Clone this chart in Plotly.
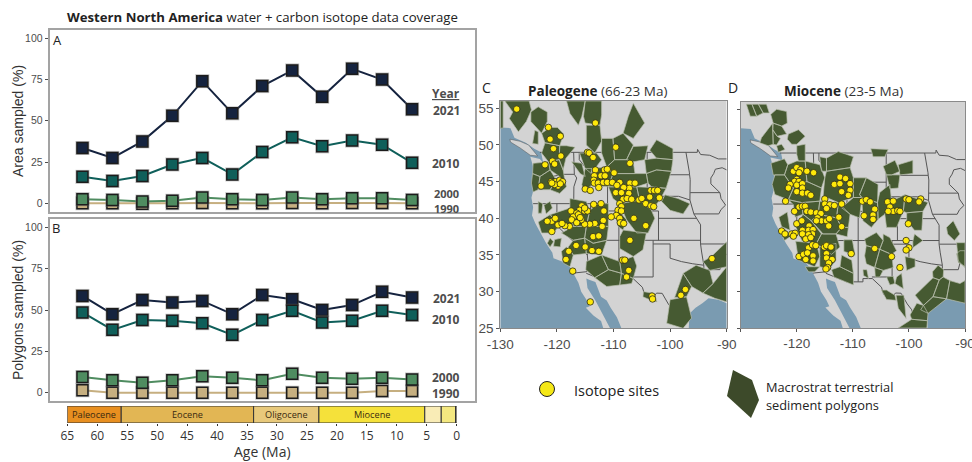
import plotly.graph_objects as go

W, H = 972, 462
AGES = [62.5, 57.5, 52.5, 47.5, 42.5, 37.5, 32.5, 27.5, 22.5, 17.5, 12.5, 7.5]
AREA_2021 = [33.5, 27.5, 37.5, 53, 74, 54.5, 71, 80.5, 64.5, 81.5, 75, 57]
AREA_2010 = [16, 13.5, 16.5, 23.5, 27.5, 17.5, 31, 40, 34.5, 38, 35.5, 24.5]
AREA_2000 = [2.5, 2, 1, 1.5, 3.5, 2.5, 2, 3.5, 2.5, 3, 3, 2]
AREA_1990 = [0, 0, -0.3, 0, 0.2, 0, 0, 0.2, 0, 0.2, 0.2, 0]
POLY_2021 = [58.5, 47.5, 56, 54.5, 55.5, 47.5, 59, 56.5, 50, 53, 61, 57.5]
POLY_2010 = [48.5, 38, 44, 43.5, 42, 35, 44, 49.5, 42.5, 43.5, 49.5, 47]
POLY_2000 = [9.5, 7.5, 6, 7.5, 10, 9, 7.5, 11.5, 9, 8.5, 9, 8]
POLY_1990 = [1.5, 0, 0, 0, 0, 0, 0, 0, 0, 0, 1, 1]
YEAR_COLORS = {"2021": "#15233f", "2010": "#0f5f5a", "2000": "#4f8c60", "1990": "#c6af80"}

PERIOD_NAMES = ["Paleocene", "Eocene", "Oligocene", "Miocene", "", "", ""]
PERIOD_OLD = [65, 56, 33.9, 23, 5.33, 2.58, 0.2]
PERIOD_YOUNG = [56, 33.9, 23, 5.33, 2.58, 0.2, 0]
PERIOD_COLORS = ["#e88f20", "#e2b654", "#e8c97b", "#f5e13a", "#f9ecb6", "#f4e880", "#f9f3c0"]

LAND = [(-130, 25), (-130, 56), (-90, 56), (-90, 25)]
OCEAN_PACIFIC = [(-130, 25), (-130, 52.4), (-128.2, 52.3), (-127.5, 51), (-125.5, 50.3), (-124, 49.5), (-122.8, 49),
                 (-122.4, 47.5), (-123, 48.1), (-124.7, 48.4), (-124.1, 46.8), (-124, 46), (-124.1, 44), (-124.5, 42.8),
                 (-124.2, 41.5), (-124.4, 40.4), (-123.8, 39.3), (-122.9, 38), (-122.5, 37.5), (-121.9, 36.6),
                 (-120.8, 35.3), (-120.6, 34.55), (-119.2, 34.15), (-118.5, 34), (-117.3, 33), (-117.1, 32.5),
                 (-116.2, 31.2), (-115.7, 30), (-114.7, 28.8), (-114.2, 28), (-114.9, 27.8), (-113.5, 26.7),
                 (-112.2, 26), (-111.8, 25)]
OCEAN_GULF_CA = [(-114.8, 31.8), (-114.6, 30.5), (-113.2, 28.8), (-112, 27), (-111.2, 25.8), (-110.6, 25),
                 (-108.6, 25), (-109.4, 26.5), (-110.5, 27.8), (-111.2, 28.8), (-112.2, 29.3), (-112.8, 30.5),
                 (-113.2, 31.3), (-114.2, 31.6)]
OCEAN_GULF_MX = [(-96.7, 25), (-96.6, 27), (-95.5, 27.8), (-94.3, 28.4), (-93.2, 29.1), (-91.5, 28.9), (-90, 28.4), (-90, 25)]
VANCOUVER_ISLAND = [(-128.3, 50.8), (-126.5, 50.5), (-125, 50), (-123.4, 48.5), (-124.7, 48.6), (-126.5, 49.6), (-128.2, 50.4)]

BORDERS = [
    [(-123, 49), (-95.2, 49), (-95.15, 49.4), (-94.6, 48.7), (-93, 48.6), (-91.5, 48.1), (-90, 48.1)],
    [(-124, 46.25), (-123, 46.15), (-122.7, 45.65), (-121.2, 45.65), (-119.3, 45.93), (-119, 46), (-116.92, 46)],
    [(-117.04, 49), (-117.04, 46.4), (-116.92, 46), (-116.5, 45.5), (-117, 44.3), (-117.03, 42)],
    [(-124.2, 42), (-111.05, 42)], [(-120, 42), (-120, 39), (-114.63, 35), (-114.05, 36.2), (-114.05, 42)],
    [(-114.63, 35), (-114.5, 34), (-114.72, 32.72), (-117.12, 32.53)],
    [(-114.81, 32.5), (-111.07, 31.33), (-108.2, 31.33), (-108.2, 31.78), (-106.53, 31.78), (-104.9, 30.6), (-104.5, 29.6),
     (-103.2, 29), (-102.4, 29.8), (-101.4, 29.77), (-100.3, 28.3), (-99.5, 27.5), (-99.1, 26.4), (-97.2, 25.95)],
    [(-114.05, 37), (-94.62, 37)], [(-109.05, 41), (-109.05, 31.33)],
    [(-111.05, 45), (-111.05, 41), (-102.05, 41), (-102.05, 37)], [(-116.05, 49), (-116.05, 48), (-114.6, 46.6),
     (-114.3, 45.5), (-113.5, 45.1), (-111.05, 44.5)],
    [(-111.05, 45), (-104.05, 45)], [(-104.05, 49), (-104.05, 41)], [(-102.05, 40), (-95.3, 40)],
    [(-104.05, 45.94), (-96.56, 45.94)], [(-104.05, 43), (-98.5, 43), (-96.5, 42.5)],
    [(-103, 37), (-103, 32), (-106.6, 32)], [(-103, 36.5), (-100, 36.5), (-100, 34.56), (-98, 34.1), (-96, 33.8), (-94.04, 33.6)],
    [(-94.62, 39.1), (-94.62, 36.5), (-94.43, 35.4), (-94.04, 33.6), (-94.04, 32), (-93.5, 31), (-93.8, 29.7)],
    [(-94.04, 33), (-91.2, 33), (-90.6, 34.8), (-90, 35.1)], [(-94.6, 36.5), (-90, 36.5)],
    [(-94.6, 39.1), (-95.3, 40), (-95.8, 40.6), (-96.5, 42.5), (-96.45, 43.5), (-96.45, 45.3), (-96.56, 45.94), (-96.6, 46.3), (-97.2, 49)],
    [(-96.45, 43.5), (-91.2, 43.5), (-92.8, 44.7), (-92.8, 45.5), (-92.3, 46.1), (-92, 46.7), (-90.8, 46.9), (-90, 46.6)],
    [(-95.8, 40.6), (-91.4, 40.6), (-91, 41.2), (-90.2, 41.8), (-91, 42.7), (-91.2, 43.5)],
]

C_POLYGONS = [
    [(-130, 56), (-129.5, 56), (-129.5, 52.3), (-130, 52.3)],
    [(-129.2, 56), (-124.9, 56), (-124.5, 54.8), (-125.4, 53.2), (-126.8, 51.8), (-128.4, 53.6), (-127.8, 54.5)],
    [(-124.6, 54.5), (-123.3, 55.2), (-121.7, 54.5), (-121.7, 53.2), (-122.7, 51.6), (-124.6, 53.2)],
    [(-124.3, 50.2), (-123.9, 52), (-123.3, 51.8), (-123.3, 50.1)],
    [(-122.7, 51.6), (-121.2, 52.4), (-119.9, 52.4), (-118.8, 51.5), (-119.5, 49.9), (-120.9, 50.1), (-122.1, 50.3)],
    [(-122.1, 50.3), (-119.5, 49.9), (-119.6, 48), (-121.5, 47.7), (-122.7, 48.9)],
    [(-119.5, 49.9), (-118.3, 49.9), (-116.8, 49.7), (-118.4, 48.2), (-118.9, 46.6), (-119.6, 48)],
    [(-124.2, 47.5), (-121.5, 47.7), (-121.2, 46.6), (-123, 45.7), (-124.3, 46.1)],
    [(-121.5, 47.7), (-119.6, 48), (-118.9, 46.6), (-118.6, 45.2), (-121.2, 46.6)],
    [(-124.3, 46.1), (-123, 45.7), (-123.3, 43.9), (-124.2, 43.6), (-124.5, 44.8)],
    [(-123, 45.7), (-121.2, 46.6), (-120.1, 45.2), (-121.2, 43.9), (-123.3, 43.9)],
    [(-120.1, 45.2), (-118.6, 45.2), (-118.3, 44.3), (-119.5, 43.4), (-121.2, 43.9)],
    [(-122.3, 41.8), (-121.2, 42.3), (-120.8, 41.4), (-121.9, 40.6)],
    [(-123.3, 42.3), (-122.5, 42), (-122.7, 40.7), (-123.3, 40.7)],
    [(-118.3, 56), (-115, 56), (-115.6, 53.9), (-116.2, 52.7), (-117.7, 54.3)],
    [(-115, 56), (-112.1, 56), (-112.1, 54.1), (-112.4, 52.7), (-115, 53), (-115.3, 53.9)],
    [(-114.8, 52.7), (-112.4, 52.7), (-112.1, 50.5), (-113.3, 48.9), (-114.8, 50)],
    [(-112.1, 50.9), (-110.1, 50.9), (-109.8, 48), (-111.2, 47), (-112.1, 48.9)],
    [(-110.1, 50.9), (-108.3, 51.6), (-106.5, 50), (-107.7, 48), (-109.8, 48)],
    [(-106.5, 55.7), (-104.5, 53), (-106.5, 50.9), (-108.3, 51.6), (-107.4, 53.9)],
    [(-106.5, 49.8), (-103.9, 49.9), (-104.5, 48), (-106.5, 47.7), (-107.7, 48)],
    [(-103.6, 49.3), (-102.4, 50.7), (-99.5, 49.5), (-99.5, 48), (-102.4, 48.2)],
    [(-104.5, 48), (-102.4, 48.2), (-99.5, 48), (-99.8, 46.4), (-102.4, 46.6), (-104.2, 46.1)],
    [(-104.2, 46.1), (-102.4, 46.6), (-99.8, 46.4), (-100.7, 44.1), (-103.3, 44.3), (-103.9, 44.8)],
    [(-117.4, 47.7), (-115.6, 47.5), (-115, 45.7), (-115.9, 46.1)],
    [(-116, 48.9), (-113, 48.9), (-112.1, 48), (-113.9, 46.1), (-115, 46.8)],
    [(-115, 46.8), (-113.9, 46.8), (-113.9, 44.5), (-115.2, 43.6), (-115.6, 44.6)],
    [(-113.9, 46.8), (-111.2, 47), (-110.1, 46.1), (-110.9, 44.3), (-113.9, 44.5)],
    [(-111.2, 47), (-109.8, 48), (-107.7, 48), (-106.5, 47.7), (-106.2, 46.1), (-110.1, 46.1)],
    [(-110.1, 46.1), (-106.2, 46.1), (-104.2, 46.1), (-103.9, 44.8), (-105.9, 44.3), (-110.9, 44.3)],
    [(-110.9, 44.3), (-105.9, 44.3), (-105.4, 42.5), (-108.9, 42), (-110.1, 42.7)],
    [(-105.9, 44.3), (-100.7, 44.1), (-101.8, 42.5), (-103.3, 41.1), (-105.4, 42.5)],
    [(-100.9, 43.2), (-98.6, 42.7), (-96.5, 42), (-97.7, 40.6), (-100, 41.1), (-101.5, 42.3)],
    [(-108.9, 42), (-105.4, 42.5), (-103.3, 41.1), (-102.7, 40), (-103.9, 38), (-105.9, 38), (-107.7, 39.8)],
    [(-109.5, 41.4), (-107.7, 39.8), (-108.3, 38.4), (-109.2, 38.9), (-109.6, 40.2)],
    [(-108.3, 38.4), (-104.2, 38), (-104.8, 35.7), (-106.5, 34.8), (-108.9, 35.9), (-108.9, 37.5)],
    [(-114.8, 34.1), (-112.1, 35), (-110.9, 33), (-113.3, 31.9), (-114.9, 33)],
    [(-112.1, 35), (-108.9, 34.1), (-108.6, 32.5), (-110.9, 33)],
    [(-113.3, 31.9), (-110.9, 33), (-108.6, 32.5), (-108.9, 30.9), (-111.2, 30.7)],
    [(-108.9, 34.1), (-106.5, 34.8), (-105.9, 33.5), (-106.5, 31.8), (-108.6, 32.5)],
    [(-108.6, 32.5), (-106.5, 31.8), (-106.8, 31.1), (-108.9, 30.9)],
    [(-123.3, 39.5), (-121.2, 40.5), (-119.6, 39), (-120.6, 38), (-122.7, 38)],
    [(-121.2, 40.5), (-117.7, 41.4), (-117.1, 38.9), (-119.6, 39)],
    [(-117.7, 42.7), (-114.8, 42.3), (-114.2, 41.1), (-114.8, 38.9), (-117.1, 38.9), (-117.7, 41.4)],
    [(-114.2, 41.1), (-112.7, 42), (-110.9, 42), (-110.9, 38.9), (-114.8, 38.9)],
    [(-117.1, 38.9), (-114.8, 38.9), (-115.1, 37.3), (-117.1, 37), (-119.2, 38)],
    [(-114.8, 38.9), (-110.9, 38.9), (-111.2, 37), (-113.6, 36.6), (-115.1, 37.3)],
    [(-113.6, 36.6), (-111.2, 37), (-112.1, 35), (-114.8, 35.2), (-115.1, 37.3)],
    [(-117.1, 37), (-115.1, 37.3), (-114.8, 35.2), (-117.1, 35), (-118, 36.1)],
    [(-118.3, 36.1), (-117.1, 35), (-117.7, 33.4), (-118.9, 33.9), (-119.2, 35.5)],
    [(-120.4, 37.1), (-119.2, 37.3), (-119.4, 36.1), (-120.6, 36.2)],
    [(-121.2, 37.3), (-120.6, 36.8), (-121.2, 36.1), (-121.7, 36.6)],
    [(-104.7, 30), (-103, 29.8), (-102.3, 28.6), (-103.6, 28.9), (-104.8, 29.3)],
    [(-92.7, 34.8), (-90, 36.8), (-90, 33.4), (-93, 32.9), (-94.2, 34.1)],
    [(-97.7, 32.5), (-95.4, 33.6), (-93, 32.9), (-92.4, 31.1), (-94.2, 29.8), (-96.2, 30.7)],
    [(-92.4, 31.1), (-90, 33.4), (-90, 28.6), (-92.1, 29.1), (-94.2, 29.8)],
    [(-97.7, 32.5), (-96.2, 30.7), (-97.1, 29.3), (-99.2, 29.2)],
    [(-100, 28.9), (-97.1, 29.3), (-96.2, 26.4), (-97.7, 25), (-100.6, 25.7)],
]

D_POLYGONS = [
    [(-129, 55.7), (-128, 55.7), (-127.15, 54.05), (-128.3, 54.05)],
    [(-128, 55.7), (-126.85, 55.7), (-126, 54.5), (-127.15, 54.05)],
    [(-126.85, 55.7), (-125.4, 55.7), (-124.9, 54.5), (-126, 54.5)],
    [(-124.65, 54.3), (-123.6, 55), (-121.8, 54.7), (-121.7, 53.1), (-122.7, 52.7), (-124.2, 53.1)],
    [(-124.2, 53.1), (-122.7, 52.7), (-121.8, 51.6), (-123.5, 51.3), (-124.3, 52.2)],
    [(-126.3, 51.1), (-124.3, 53.1), (-124.2, 50.2), (-125.1, 50), (-126.6, 50.4)],
    [(-124.3, 52.2), (-123.5, 51.3), (-122.9, 51), (-123.6, 50.1), (-124.2, 50.2)],
    [(-121.5, 51.6), (-119.7, 52.2), (-118.5, 51.3), (-120, 50.2), (-120.9, 50.2), (-121.7, 50.9)],
    [(-123.6, 50), (-122.7, 50.2), (-122.1, 49.5), (-123.3, 49.1)],
    [(-120, 50), (-118.5, 50.2), (-118.5, 47.9), (-119.7, 47.9), (-120, 48.8)],
    [(-124.6, 47.6), (-122.2, 48.2), (-121.6, 47.4), (-122.2, 46), (-124.2, 46)],
    [(-121.6, 47.4), (-120, 47.9), (-118.5, 47.9), (-118.2, 45.1), (-120.6, 44.2), (-122.2, 46)],
    [(-123.9, 46), (-122.2, 46), (-120.6, 44.2), (-121.5, 42.6), (-123.9, 43.3), (-124.4, 44.7)],
    [(-118.5, 47.9), (-115.9, 47.4), (-115, 45.6), (-115.6, 44.2), (-118.2, 45.1)],
    [(-120.6, 44.2), (-118.2, 45.1), (-115.6, 44.2), (-115.9, 42.4), (-119.1, 42.2), (-121.5, 42.6)],
    [(-115.9, 48.5), (-114.7, 48.3), (-114.7, 46.5), (-115.6, 46.5)],
    [(-114.7, 48.3), (-112.6, 49.2), (-109.9, 48.5), (-110.5, 47), (-114.7, 46.5)],
    [(-114.7, 46.5), (-110.5, 47), (-109.9, 45.6), (-109.9, 42.9), (-112.6, 42.2), (-115.3, 43.1), (-115, 45.6)],
    [(-109.9, 45.6), (-107.6, 45.6), (-108.8, 43.3), (-108.4, 42.9), (-109.9, 42.9)],
    [(-106.8, 49.6), (-103.7, 49.5), (-104.3, 48.5), (-106.4, 48.5)],
    [(-104.6, 47.2), (-102.5, 48), (-101.6, 46.5), (-103.1, 46), (-104, 46)],
    [(-101.9, 47.4), (-99.3, 48), (-99.3, 46.2), (-101.6, 46)],
    [(-104, 46), (-103.1, 46), (-101.6, 46), (-101.9, 44.2), (-103.4, 44.1)],
    [(-108.8, 43.3), (-107.6, 45.6), (-105.5, 44.7), (-105.6, 42.2), (-108.4, 42.9)],
    [(-109.9, 42.9), (-108.4, 42.9), (-108.8, 40.1), (-110.5, 40.6), (-112, 41.5)],
    [(-108.4, 42.9), (-105.6, 42.2), (-105.5, 39.9), (-106.7, 38.8), (-108.2, 39.7)],
    [(-105.6, 42.2), (-105.2, 43.6), (-103.4, 44.7), (-103.1, 42.4), (-104.3, 40.6), (-105.5, 39.9)],
    [(-103.1, 42.4), (-100.7, 43.3), (-101, 41), (-102.2, 38.8), (-104, 38.8), (-104.3, 40.6)],
    [(-100.7, 43.3), (-96.6, 42.2), (-97.5, 41), (-100.4, 40.8), (-101, 41)],
    [(-100.4, 40.8), (-97.5, 41), (-97.7, 38.4), (-99, 38.4), (-100.4, 39.7)],
    [(-99, 37.9), (-97.5, 37), (-99.3, 36), (-99.3, 36.9)],
    [(-93.3, 38.8), (-92.1, 39.7), (-90.9, 37.9), (-91.9, 37), (-93.1, 37.9)],
    [(-91.5, 36.7), (-90, 36.7), (-90, 33.3), (-91.2, 34.2)],
    [(-107.9, 37.2), (-105.8, 38.1), (-104.6, 37), (-105.2, 35.8), (-107.6, 36.3)],
    [(-104.6, 37.9), (-103.4, 37.4), (-102.2, 35.6), (-103.1, 35.1), (-105.2, 35.8), (-104.6, 37)],
    [(-107.6, 36.3), (-105.2, 35.8), (-106.1, 33.3), (-107.6, 33.8), (-107.9, 34.9)],
    [(-105.2, 35.8), (-103.1, 35.1), (-102.8, 33.3), (-104.6, 32.9), (-106.1, 33.3)],
    [(-108.2, 33), (-107.5, 33), (-107.2, 31.8), (-108.1, 32.2)],
    [(-106.1, 33.3), (-104.6, 32.9), (-105.2, 32), (-106, 32)],
    [(-104, 32), (-102.8, 32.1), (-102.5, 31.1), (-103.4, 30.9)],
    [(-102.2, 32), (-101.3, 32.5), (-101, 30.4), (-102.5, 31.1)],
    [(-104.9, 30.2), (-104, 30.2), (-102.5, 29.5), (-102.3, 28.8), (-104, 28.9)],
    [(-102.3, 29.5), (-100.9, 29.5), (-100.5, 26.3), (-101.9, 27.7)],
    [(-100.7, 34.8), (-98.9, 34.5), (-98.9, 33.4), (-100.4, 32.9)],
    [(-95.8, 32.7), (-94.8, 33.6), (-93.8, 33), (-93.9, 32), (-94.6, 31.6), (-95.7, 31.9)],
    [(-98.9, 29.5), (-95.7, 31.9), (-94.6, 31.6), (-95.7, 29.3), (-97.4, 28.1)],
    [(-94.6, 31.6), (-93.9, 32), (-92.7, 31.5), (-93.3, 29), (-95.7, 29.3)],
    [(-92.7, 31.5), (-90.9, 31.1), (-90, 31.5), (-90, 28.4), (-93.3, 29)],
    [(-97.4, 28.1), (-95.7, 29.3), (-93.3, 29), (-96.6, 27), (-97.9, 27.5)],
    [(-98.6, 28.4), (-97.4, 28.1), (-96.6, 27), (-96.7, 26), (-99.5, 26.2), (-99.8, 26.8)],
    [(-99.5, 26.2), (-96.7, 26), (-96.8, 25), (-101.9, 25)],
    [(-91.5, 35.2), (-90.9, 35.6), (-90, 35.6), (-90, 33.4), (-91.2, 34)],
    [(-119.1, 42.2), (-115.9, 42.4), (-116.2, 40.6), (-117.4, 39.7), (-118.9, 40.6)],
    [(-115.9, 42.4), (-112.6, 42.2), (-112.9, 40.1), (-116.2, 40.6)],
    [(-112.6, 42.2), (-110.5, 40.6), (-110.8, 38.8), (-112, 38.8), (-112.9, 40.1)],
    [(-116.2, 40.6), (-112.9, 40.1), (-112, 38.8), (-113, 37.9), (-115.3, 37.9), (-117.4, 39.7)],
    [(-112, 38.8), (-110.8, 38.8), (-111, 37.5), (-113, 37.9)],
    [(-121.5, 42.6), (-119.1, 42.2), (-118.9, 40.6), (-120.3, 40.2), (-120.6, 41.9)],
    [(-123.2, 40.2), (-121.7, 40.9), (-121.2, 38.4), (-122.7, 38.9)],
    [(-118.9, 40.6), (-117.4, 39.7), (-115.6, 37.9), (-116.5, 36.6), (-119.1, 37), (-120.2, 38.9)],
    [(-115.6, 37.9), (-113, 37.9), (-112.3, 36.1), (-113.8, 35.1), (-116.5, 36.6)],
    [(-111.6, 37.1), (-110.1, 37.1), (-109.6, 35), (-111.6, 35.5)],
    [(-112, 35), (-110.2, 34.3), (-109.9, 32.5), (-112.3, 33.4)],
    [(-113.8, 33), (-112.3, 33.4), (-109.9, 32.5), (-109.9, 30.9), (-113.4, 32)],
    [(-120.2, 36.9), (-116.5, 36.6), (-115.9, 34.8), (-116.8, 33.4), (-119.7, 34.3)],
    [(-115.9, 36.1), (-113, 36.6), (-113, 34.3), (-114.2, 33.1), (-115.9, 33.4), (-115.9, 34.8)],
    [(-118.5, 33.4), (-115.9, 33.4), (-116.8, 32.7), (-117.9, 32.7)],
    [(-123, 38.5), (-122, 38.5), (-121.2, 37.5), (-122.2, 37)],
]

C_SITES_LON = [-127.1, -121.5, -121.2, -119.4, -120.6, -119.3, -122.1, -120.8, -120.4, -122.8, -121, -120.6, -120.2, -119.5, -119, -119.8, -120.4, -120.9, -119.4,
               -113.2, -114.6, -114.3, -113.6, -109.6, -107.1, -113.2, -111.6, -111.1, -109.9, -113.4, -112.2, -111.5, -113.5, -113.4, -112.7, -112.6, -111.8, -111.1, -110.2, -108.9, -109.4, -115, -114.1, -107.1, -106.2, -107.2, -108.2, -109.6, -108.6, -107.3, -108.3, -107.6, -106.8, -105.5, -105, -104.3, -103.6, -103.4, -102.8, -102.2, -101.9, -103.4, -102.9,
               -108.9, -108.6, -109.2, -108.6, -109.5, -110.4, -108.9, -108.8, -108.2, -106.4, -104.3, -107.1, -108.4, -108, -107.3, -107.7,
               -113.5, -112.2, -111.7, -111.8, -112, -113.3, -114.2, -115.1, -113.6, -112.6, -113.8, -112.6, -115, -116.6, -117.9, -118.4, -117.2, -114.1, -103.2, -103.1, -98.1, -97.3, -92.6,
               -117.5, -115.6, -116, -116.5, -115.1, -114.6, -117.1, -116.2, -117.4, -115.7, -116.5, -117.8, -118.6, -119.8, -120.9, -121.7, -120.3, -119.1, -120.9, -115.9, -115.1]
C_SITES_LAT = [54.9, 52.4, 50.8, 51.2, 49.5, 48.5, 47.3, 47.8, 47.4, 44.4, 45, 44.9, 45, 45.2, 45, 44.4, 44.6, 44.8, 44.7,
               53, 49, 48.9, 48.3, 49.7, 47.5, 46.6, 46.6, 46.7, 46.2, 45.8, 45.8, 45.8, 45.2, 44.8, 44.8, 44.2, 44.9, 44.9, 44.9, 44.9, 44.5, 44, 43.8, 44.8, 44.8, 44.1, 44.2, 43.5, 43.5, 43.4, 42.6, 42.7, 42.6, 42.5, 42.7, 42, 42.9, 43.8, 43.8, 43.8, 42.8, 41.7, 41.6,
               42, 41.6, 41.1, 41, 40.4, 40.2, 40, 39.4, 39.3, 40, 39, 37, 34.3, 34.3, 32.9, 32,
               41.9, 42, 41, 39.7, 38.9, 39.3, 39.2, 39.2, 37.5, 37.6, 35.6, 35.5, 36.1, 36.3, 35.5, 34.4, 32.8, 28.6, 29.4, 29, 29.5, 30.3, 34.5,
               41, 41.7, 41.1, 40.7, 41, 41, 40.2, 40.5, 39.8, 39.8, 39.4, 38.9, 39, 39.1, 39.6, 39.6, 40, 39.3, 38.2, 40.1, 41.4]
D_SITES_LON = [-120.6, -120, -119.3, -118.2, -117, -119.6, -120, -120.4, -119.6, -121.2, -120, -119, -121.5, -119, -120, -119, -118.1, -117.5, -122,
               -115, -115, -114.1, -113.3, -114.7, -112, -119.6, -119, -118.5, -120.4, -118.2, -117.5, -116.5, -115.7, -116.3, -115.6, -114.7, -116.5, -120, -119.1, -114.2, -112.5, -114.3, -112,
               -112.3, -111.3, -113.3, -112.3, -110.5, -110.5, -112, -110.8,
               -122.7, -122.1, -120.9, -120.3, -120.6, -119, -117.8, -119, -117.9, -117.1, -117.2, -117.9, -118.4, -117.5,
               -117.9, -117.2, -116.6, -115.1, -114.7, -113.9, -119.6, -118.8, -118.1, -117.1, -118.4, -117.1, -114.7, -114.7, -113.7, -114.3, -114.5, -114.8,
               -110.3, -106.1, -103.1, -101.6, -108.3, -107.6, -106.9, -106.1, -106.4, -106.4, -108,
               -103.8, -102.8, -103.4, -102.8, -103.7, -102, -101.6, -100.5, -100, -97.9, -98.2, -100.1, -100.5, -100, -100.5]
D_SITES_LAT = [46.5, 47, 46.7, 46.5, 46.3, 46.3, 45.4, 45.1, 45.1, 44.7, 44.6, 44.8, 44.2, 44.2, 43.7, 43.5, 43.5, 43.2, 42.4,
               42.7, 42, 41.9, 41.8, 41.4, 42, 41.6, 41.7, 41.7, 41, 41, 40.9, 40.8, 40.7, 40.1, 39.7, 39.7, 39.7, 39.3, 39.7, 40, 40.2, 39, 38.9,
               45.7, 45.5, 44.7, 44.8, 44.8, 43.9, 43.7, 43.2,
               38.3, 37.9, 37.9, 38, 37.6, 38.4, 39, 37.9, 38.4, 38.5, 37.9, 37.8, 37.2, 37.4,
               36, 36.4, 36.3, 36.1, 36.3, 36.1, 34.8, 35.1, 35.3, 34.9, 34.4, 34.2, 35.2, 34.6, 34.4, 33.9, 33.3, 33.1,
               35.2, 35.9, 34.8, 33.3, 42.4, 42.6, 42.3, 41.3, 40.5, 39.9, 40.4,
               42.3, 42.4, 41.6, 41, 41, 41.1, 41, 42.7, 42.6, 42.7, 42.3, 39.3, 37, 36, 35.7]

MAP_X_TICKS = [-130, -120, -110, -100, -90]
MAP_Y_TICKS = [25, 30, 35, 40, 45, 50, 55]
KEY_SITE = ([547], [389])
KEY_POLYGON = [(733, 370), (752, 380), (759, 400), (751, 418), (727, 396)]

PX = lambda x: x / W
PY = lambda y: 1 - y / H
GREY = "#4d4d4d"
LAB = "Open Sans"


def closed(polys):
    xs, ys = [], []
    for p in polys:
        xs += [q[0] for q in p] + [p[0][0], None]
        ys += [q[1] for q in p] + [p[0][1], None]
    return xs, ys


def opened(lines):
    xs, ys = [], []
    for p in lines:
        xs += [q[0] for q in p] + [None]
        ys += [q[1] for q in p] + [None]
    return xs, ys


fig = go.Figure()


def add_series(vals, xa, ya):
    for year in ["1990", "2021", "2010", "2000"]:
        c = YEAR_COLORS[year]
        fig.add_trace(go.Scatter(x=AGES, y=vals[year], mode="lines", line=dict(color=c, width=2), xaxis=xa, yaxis=ya,
                                 showlegend=False, cliponaxis=False))
        fig.add_trace(go.Scatter(x=AGES, y=vals[year], mode="markers", xaxis=xa, yaxis=ya, showlegend=False, cliponaxis=False,
                                 marker=dict(symbol="square", size=14, color="rgba(120,120,120,0.45)", line=dict(width=0))))
        fig.add_trace(go.Scatter(x=AGES, y=vals[year], mode="markers", xaxis=xa, yaxis=ya, showlegend=False, cliponaxis=False,
                                 marker=dict(symbol="square", size=11, color=c, line=dict(color="#1c1c1c", width=1.5))))


add_series({"2021": AREA_2021, "2010": AREA_2010, "2000": AREA_2000, "1990": AREA_1990}, "x", "y")
add_series({"2021": POLY_2021, "2010": POLY_2010, "2000": POLY_2000, "1990": POLY_1990}, "x2", "y2")

for old, young, col in zip(PERIOD_OLD, PERIOD_YOUNG, PERIOD_COLORS):
    fig.add_trace(go.Bar(x=[old - young], base=[young], y=[0.5], width=1, orientation="h", xaxis="x3", yaxis="y3",
                         marker=dict(color=col, line=dict(color="#333333", width=1)), showlegend=False))


def add_map(polys, slon, slat, xa, ya):
    x, y = closed([LAND])
    fig.add_trace(go.Scatter(x=x, y=y, mode="lines", fill="toself", fillcolor="#d3d3d3", line=dict(width=0), xaxis=xa, yaxis=ya, showlegend=False))
    for ocean in (OCEAN_PACIFIC, OCEAN_GULF_CA, OCEAN_GULF_MX):
        x, y = closed([ocean])
        fig.add_trace(go.Scatter(x=x, y=y, mode="lines", fill="toself", fillcolor="#7a9bb1", line=dict(width=0), xaxis=xa, yaxis=ya, showlegend=False))
    x, y = closed([VANCOUVER_ISLAND])
    fig.add_trace(go.Scatter(x=x, y=y, mode="lines", fill="toself", fillcolor="#d3d3d3", line=dict(color="#555555", width=0.5), xaxis=xa, yaxis=ya, showlegend=False))
    x, y = opened(BORDERS)
    fig.add_trace(go.Scatter(x=x, y=y, mode="lines", line=dict(color="#555555", width=1), xaxis=xa, yaxis=ya, showlegend=False))
    x, y = closed(polys)
    fig.add_trace(go.Scatter(x=x, y=y, mode="lines", fill="toself", fillcolor="#465a32", line=dict(color="#b9bfae", width=0.7), xaxis=xa, yaxis=ya, showlegend=False))
    fig.add_trace(go.Scatter(x=slon, y=slat, mode="markers", xaxis=xa, yaxis=ya, showlegend=False,
                             marker=dict(size=6.5, color="#ffe90a", line=dict(color="#2a2a1a", width=0.8))))


add_map(C_POLYGONS, C_SITES_LON, C_SITES_LAT, "x4", "y4")
add_map(D_POLYGONS, D_SITES_LON, D_SITES_LAT, "x5", "y5")

fig.add_trace(go.Scatter(x=KEY_SITE[0], y=KEY_SITE[1], mode="markers", xaxis="x6", yaxis="y6", showlegend=False,
                         marker=dict(size=15, color="#f5e816", line=dict(color="#222222", width=1))))
x, y = closed([KEY_POLYGON])
fig.add_trace(go.Scatter(x=x, y=y, mode="lines", fill="toself", fillcolor="#3d4a2a", line=dict(width=0), xaxis="x6", yaxis="y6", showlegend=False))

box = dict(showline=True, mirror=True, linecolor="#a3a3a3", linewidth=1.5, zeroline=False, showgrid=False, automargin=False)
yt = dict(tickvals=[0, 25, 50, 75, 100], range=[-5, 105], ticks="outside", ticklen=3, tickcolor="#4d4d4d",
          tickfont=dict(family="Liberation Sans", size=10.5, color=GREY), **box)
xp = dict(range=[68, -3], showticklabels=False, ticks="", domain=[PX(49.5), PX(475)], **box)
mapx = dict(range=[-130, -90], ticks="outside", ticklen=3, tickcolor="#555555", tickvals=MAP_X_TICKS, automargin=False, ticklabeloverflow="allow",
            tickfont=dict(family="Liberation Sans", size=13.5, color=GREY), showline=True, mirror=True, linecolor="#8a8a8a", linewidth=1, showgrid=False, zeroline=False)
mapy = dict(range=[25, 56], ticks="outside", ticklen=3, tickcolor="#555555", tickvals=MAP_Y_TICKS, automargin=False,
            tickfont=dict(family="Liberation Sans", size=13.5, color=GREY), showline=True, mirror=True, linecolor="#8a8a8a", linewidth=1, showgrid=False, zeroline=False)


def ann(text, x, y, size, color="#222222", anchor="center", font=LAB, **kw):
    return dict(text=text, x=PX(x), y=PY(y), xref="paper", yref="paper", showarrow=False, xanchor=anchor, yanchor="middle", borderpad=0,
                font=dict(family=font, size=size, color=color), **kw)


annotations = [
    ann("<b>Western North America</b> water + carbon isotope data coverage", 262, 17, 13.2),
    ann("A", 57, 40, 13), ann("B", 56, 228, 13), ann("C", 487, 87, 14), ann("D", 733, 87, 14),
    ann("<b><u>Year</u></b>", 446, 93, 12, GREY), ann("<b>2021</b>", 446, 110, 12, GREY), ann("<b>2010</b>", 446, 163, 12, GREY),
    ann("<b>2000</b>", 446, 193, 11, GREY), ann("<b>1990</b>", 446, 208, 11, GREY),
    ann("<b>2021</b>", 446, 298, 12, GREY), ann("<b>2010</b>", 446, 319, 12, GREY), ann("<b>2000</b>", 446, 377, 12, GREY), ann("<b>1990</b>", 446, 393, 12, GREY),
    ann("<b>Paleogene</b> <span style='color:#333'>(66-23 Ma)</span>", 597, 91, 13.5),
    ann("<b>Miocene</b> <span style='color:#333'>(23-5 Ma)</span>", 843, 91, 13.5),
    ann("Isotope sites", 616, 390, 14.5), ann("Macrostrat terrestrial", 765, 387, 12.8, anchor="left"), ann("sediment polygons", 765, 405, 12.8, anchor="left"),
    ann("Area sampled (%)", 18, 121, 14, "#333333", font="Liberation Sans", textangle=-90),
    ann("Polygons sampled (%)", 18, 310, 14, "#333333", font="Liberation Sans", textangle=-90),
    ann("Age (Ma)", 262, 451.5, 14, "#333333"),
]
for name, old, young in zip(PERIOD_NAMES, PERIOD_OLD, PERIOD_YOUNG):
    if name:
        annotations.append(dict(text=name, x=(old + young) / 2, y=0.5, xref="x3", yref="y3", showarrow=False,
                                font=dict(family=LAB, size=9.2, color="#3a2a10")))

fig.update_layout(
    width=W, height=H, margin=dict(l=0, r=0, t=0, b=0), paper_bgcolor="white", plot_bgcolor="white", showlegend=False,
    barmode="overlay", annotations=annotations,
    xaxis=dict(anchor="y", **xp), yaxis=dict(anchor="x", domain=[PY(211.5), PY(30)], **yt),
    xaxis2=dict(anchor="y2", **xp), yaxis2=dict(anchor="x2", domain=[PY(401), PY(219)], **yt),
    xaxis3=dict(anchor="y3", domain=[PX(67.3), PX(456.7)], range=[65, 0], tickvals=list(range(65, -1, -5)), ticks="outside", ticklen=2,
                tickcolor="#333333", tickfont=dict(family=LAB, size=12, color="#333333"), showgrid=False, zeroline=False, automargin=False),
    yaxis3=dict(anchor="x3", domain=[PY(423), PY(406)], range=[0, 1], visible=False, automargin=False),
    xaxis4=dict(anchor="y4", domain=[PX(500.3), PX(726.7)], ticktext=[str(v) for v in MAP_X_TICKS], **mapx),
    yaxis4=dict(anchor="x4", domain=[PY(328.3), PY(101)], **mapy),
    xaxis5=dict(anchor="y5", domain=[PX(740.7), PX(965)], ticktext=["" if v == -130 else str(v) for v in MAP_X_TICKS], **mapx),
    yaxis5=dict(anchor="x5", domain=[PY(328), PY(102)], showticklabels=False, **mapy),
    xaxis6=dict(domain=[PX(535), PX(770)], range=[535, 770], visible=False, anchor="y6", automargin=False),
    yaxis6=dict(domain=[PY(425), PY(365)], range=[425, 365], visible=False, anchor="x6", automargin=False),
)
fig.write_html("out.html", config=dict(displayModeBar=False),
               post_script="document.body.style.margin='0';document.body.style.overflow='hidden';")
